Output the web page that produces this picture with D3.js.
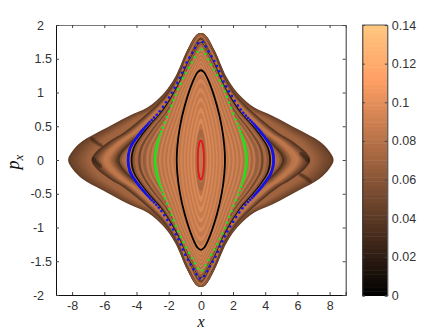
<!DOCTYPE html>
<html>
<head>
<meta charset="utf-8">
<script src="https://cdnjs.cloudflare.com/ajax/libs/d3/7.8.5/d3.min.js"></script>
<style>
html, body { margin: 0; padding: 0; background: #fff; }
text { font-family: "Liberation Sans", Arial, sans-serif; }
</style>
</head>
<body>
<script>
// tick labels
var xTicks = [-8, -6, -4, -2, 0, 2, 4, 6, 8];
var yTicks = [-2, -1.5, -1, -0.5, 0, 0.5, 1, 1.5, 2];
var colorTicks = [0, 0.02, 0.04, 0.06, 0.08, 0.1, 0.12, 0.14];

// orbits, upper right quarter, [x, px]
var outerOrbit = [[8.25, 0], [7.95, 0.14], [7.35, 0.28], [6.16, 0.44], [4.5, 0.65], [3.3, 0.78], [2.3, 0.99], [1.6, 1.23], [0.85, 1.63], [0.3, 1.85], [0, 1.88]];
var foldOrbit = [[6.8, 0], [6.55, 0.11], [5.54, 0.3], [4.9, 0.39], [3.67, 0.62], [2.3, 0.93], [1.55, 1.2], [0.8, 1.6], [0, 1.85]];
var blueOrbit = [[4.52, 0], [4.38, 0.18], [3.96, 0.34], [3.34, 0.52], [2.6, 0.71], [1.89, 0.96], [1.36, 1.19], [0.96, 1.41], [0.55, 1.58], [0, 1.76]];
var greenOrbit = [[2.85, 0], [2.75, 0.19], [2.54, 0.37], [2, 0.7], [1.38, 1.07], [0.88, 1.31], [0.57, 1.44], [0.14, 1.62], [0, 1.65]];
var blackOrbit = [[1.5, 0], [1.46, 0.2], [1.3, 0.49], [0.99, 0.81], [0.5, 1.16], [0.2, 1.3], [0, 1.33]];
var redOrbit = [[0.19, 0], [0.18, 0.1], [0.14, 0.2], [0.07, 0.27], [0, 0.29]];

// dark creases by the lobes, the other one is this turned half way round
var creaseRight = [[6.15, -0.21], [6.5, -0.26], [6.8, -0.32]];
var creaseTip = [[6.2, 0.1], [6.5, 0.03], [6.7, -0.02]];

// the coloured stripes, outermost first: shape, width and height of each, colour value
var ringShape = ["outer", "outer", "outer", "outer", "outer", "outer", "outer", "outer",
    "fold", "fold", "fold", "fold", "fold", "fold", "fold", "fold", "fold", "fold", "fold", "fold", "fold", "fold",
    "blue", "blue", "blue", "blue", "blue", "blue", "blue", "blue", "blue", "blue", "blue",
    "green", "green", "green", "green", "green", "green", "green", "green", "green", "green", "green",
    "black", "black", "black", "black", "black", "black", "black", "black", "black", "black", "black", "black",
    "red", "red", "red", "red"];
var ringX = [8.25, 8.1, 7.9, 7.7, 7.5, 7.3, 7.1, 6.95,
    6.8, 6.65, 6.5, 6.35, 6.2, 6.05, 5.85, 5.65, 5.5, 5.35, 5.2, 5.05, 4.9, 4.7,
    4.52, 4.36, 4.25, 4.1, 3.9, 3.75, 3.6, 3.4, 3.25, 3.1, 2.98,
    2.85, 2.72, 2.6, 2.47, 2.34, 2.22, 2.1, 1.97, 1.85, 1.72, 1.6,
    1.5, 1.38, 1.27, 1.16, 1.05, 0.95, 0.85, 0.75, 0.65, 0.55, 0.45, 0.38,
    0.3, 0.22, 0.14, 0.08];
var ringP = [1.88, 1.88, 1.88, 1.87, 1.87, 1.87, 1.86, 1.86,
    1.85, 1.85, 1.85, 1.85, 1.85, 1.84, 1.84, 1.83, 1.82, 1.81, 1.8, 1.79, 1.78, 1.77,
    1.76, 1.75, 1.74, 1.73, 1.72, 1.71, 1.7, 1.69, 1.68, 1.67, 1.66,
    1.65, 1.62, 1.59, 1.56, 1.53, 1.5, 1.47, 1.44, 1.41, 1.38, 1.35,
    1.33, 1.27, 1.2, 1.14, 1.07, 1.0, 0.93, 0.86, 0.78, 0.7, 0.62, 0.54,
    0.46, 0.34, 0.22, 0.12];
var ringValue = [0.043, 0.048, 0.052, 0.056, 0.06, 0.064, 0.068, 0.07,
    0.035, 0.045, 0.055, 0.065, 0.076, 0.084, 0.082, 0.072, 0.062, 0.048, 0.035, 0.06, 0.074, 0.08,
    0.08, 0.006, 0.06, 0.074, 0.05, 0.076, 0.066, 0.084, 0.072, 0.086, 0.078,
    0.09, 0.078, 0.09, 0.08, 0.091, 0.081, 0.092, 0.082, 0.092, 0.083, 0.093,
    0.092, 0.084, 0.093, 0.085, 0.094, 0.085, 0.095, 0.086, 0.096, 0.087, 0.098, 0.083,
    0.074, 0.08, 0.084, 0.084];

var shapes = { outer: outerOrbit, fold: foldOrbit, blue: blueOrbit, green: greenOrbit, black: blackOrbit, red: redOrbit };

var width = 436,
    height = 332;

var svg = d3.select("body")
    .append("svg")
    .attr("width", width)
    .attr("height", height)
    .style("display", "block");

var x = d3.scaleLinear().domain([-9, 9]).range([56, 345.7]);
var y = d3.scaleLinear().domain([-2, 2]).range([295, 25]);

// matlab copper map
var colorMax = 0.14;
function copper(v) {
    var c = v / colorMax;
    return d3.rgb(Math.min(255, 255 * 1.25 * c), 255 * 0.7812 * c, 255 * 0.4975 * c).formatRgb();
}

// all four quarters from one quarter, closed curve
function fullOrbit(quarter) {
    var pts = quarter.slice();
    quarter.slice(0, -1).reverse().forEach(function (d) { pts.push([-d[0], d[1]]); });
    quarter.slice(1).forEach(function (d) { pts.push([-d[0], -d[1]]); });
    quarter.slice(1, -1).reverse().forEach(function (d) { pts.push([d[0], -d[1]]); });
    return pts;
}

var line = d3.line()
    .x(function (d) { return x(d[0]); })
    .y(function (d) { return y(d[1]); })
    .curve(d3.curveCatmullRomClosed.alpha(0.5));

var openLine = d3.line()
    .x(function (d) { return x(d[0]); })
    .y(function (d) { return y(d[1]); })
    .curve(d3.curveCatmullRom);

// stripe i is its template orbit stretched to the width and height read for it
function ringPath(i) {
    var t = shapes[ringShape[i]];
    var quarter = t.map(function (d) {
        return [d[0] / t[0][0] * ringX[i], d[1] / t[t.length - 1][1] * ringP[i]];
    });
    return line(fullOrbit(quarter));
}

var defs = svg.append("defs");
defs.append("filter").attr("id", "soft")
    .append("feGaussianBlur").attr("stdDeviation", 0.45);
defs.append("filter").attr("id", "softer")
    .append("feGaussianBlur").attr("stdDeviation", 0.8);

var field = svg.append("g").attr("filter", "url(#soft)");
field.selectAll("path")
    .data(ringX)
    .enter()
    .append("path")
    .attr("d", function (d, i) { return ringPath(i); })
    .attr("fill", function (d, i) { return copper(ringValue[i]); });

// creases on both lobes
[creaseRight, creaseTip].forEach(function (crease) {
    [1, -1].forEach(function (sign) {
        svg.append("path")
            .attr("d", openLine(crease.map(function (d) { return [sign * d[0], sign * d[1]]; })))
            .attr("fill", "none")
            .attr("stroke", "#120a05")
            .attr("stroke-width", 2)
            .attr("stroke-opacity", 0.8)
            .attr("stroke-linecap", "round")
            .attr("filter", "url(#softer)");
    });
});

// solid black orbit
field.append("path")
    .attr("d", line(fullOrbit(blackOrbit)))
    .attr("fill", "none")
    .attr("stroke", "#000")
    .attr("stroke-width", 1.8);

// orbits drawn as points, close together where px is small and apart elsewhere
function drawDots(orbit, color, r, near, far) {
    var p = svg.append("path").attr("d", line(fullOrbit(orbit))).attr("fill", "none");
    var node = p.node(),
        total = node.getTotalLength(),
        s = 0;
    var g = svg.append("g").attr("fill", color);
    while (s < total) {
        var pt = node.getPointAtLength(s);
        g.append("circle").attr("cx", pt.x).attr("cy", pt.y).attr("r", r);
        var py = Math.abs(y.invert(pt.y));
        var k = Math.max(0, Math.min(1, (py - near) / 0.35));
        s += 1 + k * (far - 1);
    }
    p.remove();
}
drawDots(blueOrbit, "#1212ee", 1.3, 0.45, 5.6);
drawDots(greenOrbit, "#1fe01c", 1.3, 0.25, 6);
drawDots(redOrbit, "#e8141c", 0.9, 5, 1);

function label(d) { return String(d); }

// axes, ticks point inwards on all four sides
var bottomAxis = svg.append("g").attr("transform", "translate(0,295)")
    .call(d3.axisBottom(x).tickValues(xTicks).tickSize(-3).tickPadding(6).tickFormat(label));
var topAxis = svg.append("g").attr("transform", "translate(0,25)")
    .call(d3.axisTop(x).tickValues(xTicks).tickSize(-3).tickFormat(""));
var leftAxis = svg.append("g").attr("transform", "translate(56,0)")
    .call(d3.axisLeft(y).tickValues(yTicks).tickSize(-3).tickFormat(label));
var rightAxis = svg.append("g").attr("transform", "translate(345.7,0)")
    .call(d3.axisRight(y).tickValues(yTicks).tickSize(-3).tickFormat(""));

// y labels sit on their decimal point
leftAxis.selectAll("text")
    .attr("text-anchor", "end")
    .attr("x", function (d) { return (Number.isInteger(d) ? 44 : 52) - 56; });

svg.selectAll(".tick line").attr("stroke", "#444");
svg.selectAll(".domain").attr("stroke", "#111");
topAxis.select(".domain").attr("stroke", "#777");
rightAxis.select(".domain").attr("stroke", "#333");
svg.selectAll(".tick text")
    .style("font-size", "12.5px")
    .style("font-family", "'Liberation Sans', Arial, sans-serif")
    .attr("fill", "#333");

// colorbar
var barLeft = 362.3,
    barRight = 387.3;
var barScale = d3.scaleLinear().domain([0, colorMax]).range([295.5, 25]);
var barLevels = d3.range(64);
svg.append("g").selectAll("rect")
    .data(barLevels)
    .enter()
    .append("rect")
    .attr("x", barLeft)
    .attr("width", barRight - barLeft)
    .attr("y", function (d) { return barScale((d + 1) / 64 * colorMax); })
    .attr("height", function (d) { return barScale(d / 64 * colorMax) - barScale((d + 1) / 64 * colorMax) + 0.5; })
    .attr("fill", function (d) { return copper((d + 0.5) / 64 * colorMax); });

svg.append("g").attr("transform", "translate(" + barRight + ",0)")
    .call(d3.axisRight(barScale).tickValues(colorTicks).tickSize(-2.5).tickPadding(4.5).tickFormat(label))
    .call(function (g) {
        g.selectAll("text").style("font-size", "12.5px").attr("fill", "#333")
            .style("font-family", "'Liberation Sans', Arial, sans-serif");
        g.selectAll("line").attr("stroke", "#444");
        g.select(".domain").attr("stroke", "#333");
    });
svg.append("g").attr("transform", "translate(" + barLeft + ",0)")
    .call(d3.axisLeft(barScale).tickValues(colorTicks).tickSize(-2.5).tickFormat(""))
    .call(function (g) {
        g.selectAll("line").attr("stroke", "#444");
        g.select(".domain").attr("stroke", "#333");
    });
svg.append("line").attr("x1", barLeft).attr("x2", barRight).attr("y1", 25).attr("y2", 25).attr("stroke", "#555");

// axis titles
svg.append("text")
    .attr("x", 201)
    .attr("y", 327)
    .attr("text-anchor", "middle")
    .style("font-family", "'Liberation Serif', serif")
    .style("font-style", "italic")
    .style("font-size", "16px")
    .attr("fill", "#111")
    .text("x");

var yTitle = svg.append("text")
    .attr("transform", "translate(19,162) rotate(-90)")
    .attr("text-anchor", "middle")
    .style("font-family", "'Liberation Serif', serif")
    .style("font-style", "italic")
    .style("font-size", "18px")
    .attr("fill", "#111");
yTitle.append("tspan").text("p");
yTitle.append("tspan").attr("dy", 4).style("font-size", "13px").text("x");
</script>
</body>
</html>
